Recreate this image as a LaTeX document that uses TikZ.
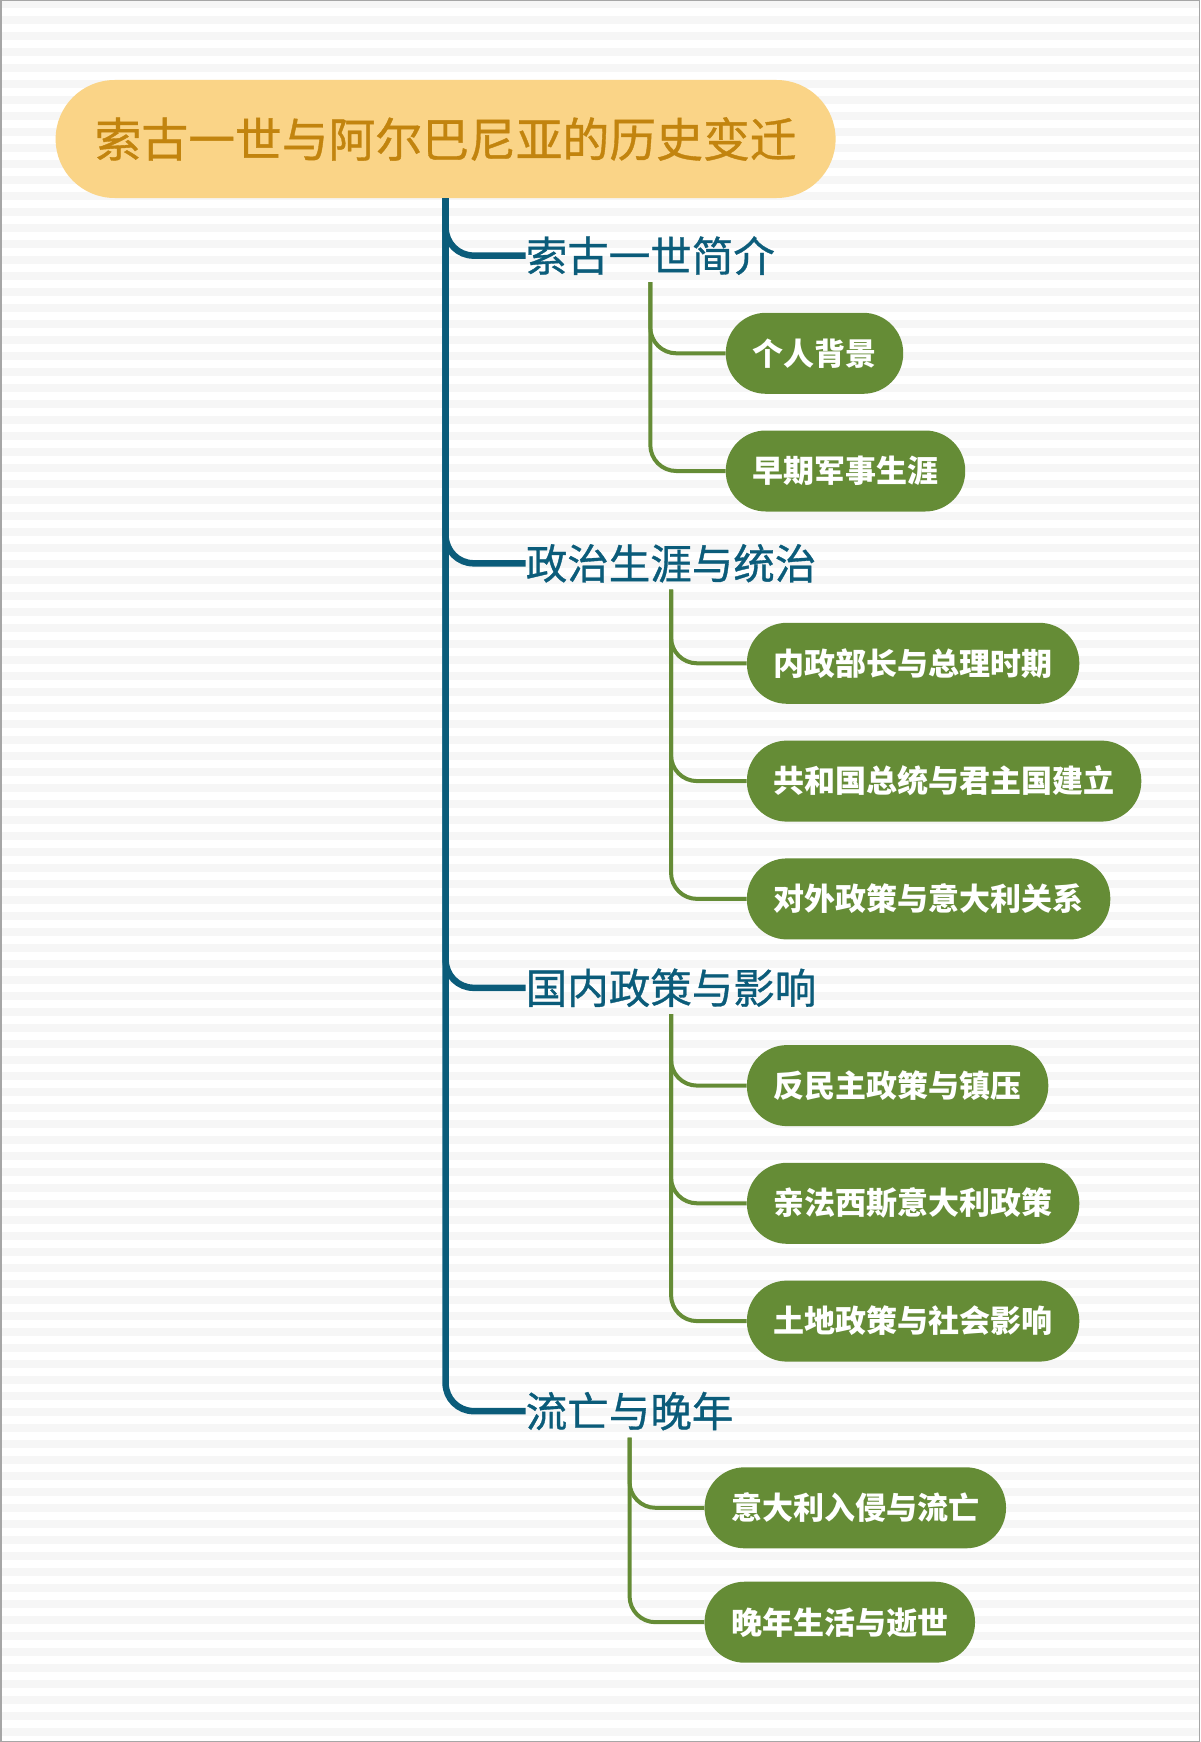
\documentclass[tikz,border=0pt]{standalone}
\usepackage{fontspec}
\setmainfont{Noto Sans CJK SC}
\newfontface\headface[FakeBold=0.8]{Noto Sans CJK SC}
\usepackage{xcolor}
\definecolor{gold}{RGB}{250,212,135}
\definecolor{golddark}{RGB}{194,132,14}
\definecolor{mapblue}{RGB}{11,92,122}
\definecolor{leafgreen}{RGB}{101,140,54}
\definecolor{stripe}{RGB}{246,246,246}

\begin{document}
\begin{tikzpicture}[x=1pt, y=-1pt,
	root/.style = {rectangle, fill=gold, text=golddark, rounded corners=59pt, minimum width=780pt, minimum height=118pt, font=\headface\fontsize{46.8}{56}\selectfont},
	topic/.style = {anchor=west, inner sep=0pt, text=mapblue, font=\headface\fontsize{41.5}{50}\selectfont},
	leaf/.style = {anchor=west, rectangle, fill=leafgreen, text=white, rounded corners=40pt, minimum height=81pt, inner xsep=26.7pt, font=\bfseries\fontsize{31}{37}\selectfont},
	trunk/.style = {draw=mapblue, line width=6.5pt, rounded corners=28pt},
	twig/.style = {draw=leafgreen, line width=4pt, rounded corners=26pt, shorten <=7pt}
	]
	
	%Background
	\useasboundingbox (0,0) rectangle (1200,1742);
	\fill[white] (0,0) rectangle (1200,1742);
	\foreach \y in {0,16,...,1728}
		\fill[stripe] (0,\y) rectangle (1200,\y+8);
	\draw[gray!70, line width=1.5pt] (0.75,0.75) rectangle (1199.25,1741.25);
	
	%Nodes
	\node[root]		(root)	at	(445.6, 139)	{索古一世与阿尔巴尼亚的历史变迁};
	
	\node[topic]	(t1)	at	(525.6, 255.6)	{索古一世简介};
	\node[topic]	(t2)	at	(525.6, 563.3)	{政治生涯与统治};
	\node[topic]	(t3)	at	(525.6, 987.8)	{国内政策与影响};
	\node[topic]	(t4)	at	(525.6, 1411.1)	{流亡与晚年};
	
	\node[leaf]		(l1-1)	at	(725.6, 353.3)	{个人背景};
	\node[leaf]		(l1-2)	at	(725.6, 471)	{早期军事生涯};
	
	\node[leaf]		(l2-1)	at	(746.7, 663.3)	{内政部长与总理时期};
	\node[leaf]		(l2-2)	at	(746.7, 781.1)	{共和国总统与君主国建立};
	\node[leaf]		(l2-3)	at	(746.7, 898.9)	{对外政策与意大利关系};
	
	\node[leaf]		(l3-1)	at	(746.7, 1085.6)	{反民主政策与镇压};
	\node[leaf]		(l3-2)	at	(746.7, 1203.3)	{亲法西斯意大利政策};
	\node[leaf]		(l3-3)	at	(746.7, 1321.1)	{土地政策与社会影响};
	
	\node[leaf]		(l4-1)	at	(704.4, 1507.8)	{意大利入侵与流亡};
	\node[leaf]		(l4-2)	at	(704.4, 1622.2)	{晚年生活与逝世};
	
	%Lines
	\draw[trunk]	(root.south)	|-	(t1.west);
	\draw[trunk]	(root.south)	|-	(t2.west);
	\draw[trunk]	(root.south)	|-	(t3.west);
	\draw[trunk]	(root.south)	|-	(t4.west);
	
	\draw[twig]		(t1.south)		|-	(l1-1.west);
	\draw[twig]		(t1.south)		|-	(l1-2.west);
	
	\draw[twig]		(t2.south)		|-	(l2-1.west);
	\draw[twig]		(t2.south)		|-	(l2-2.west);
	\draw[twig]		(t2.south)		|-	(l2-3.west);
	
	\draw[twig]		(t3.south)		|-	(l3-1.west);
	\draw[twig]		(t3.south)		|-	(l3-2.west);
	\draw[twig]		(t3.south)		|-	(l3-3.west);
	
	\draw[twig]		(t4.south)		|-	(l4-1.west);
	\draw[twig]		(t4.south)		|-	(l4-2.west);
	
\end{tikzpicture}
\end{document}
